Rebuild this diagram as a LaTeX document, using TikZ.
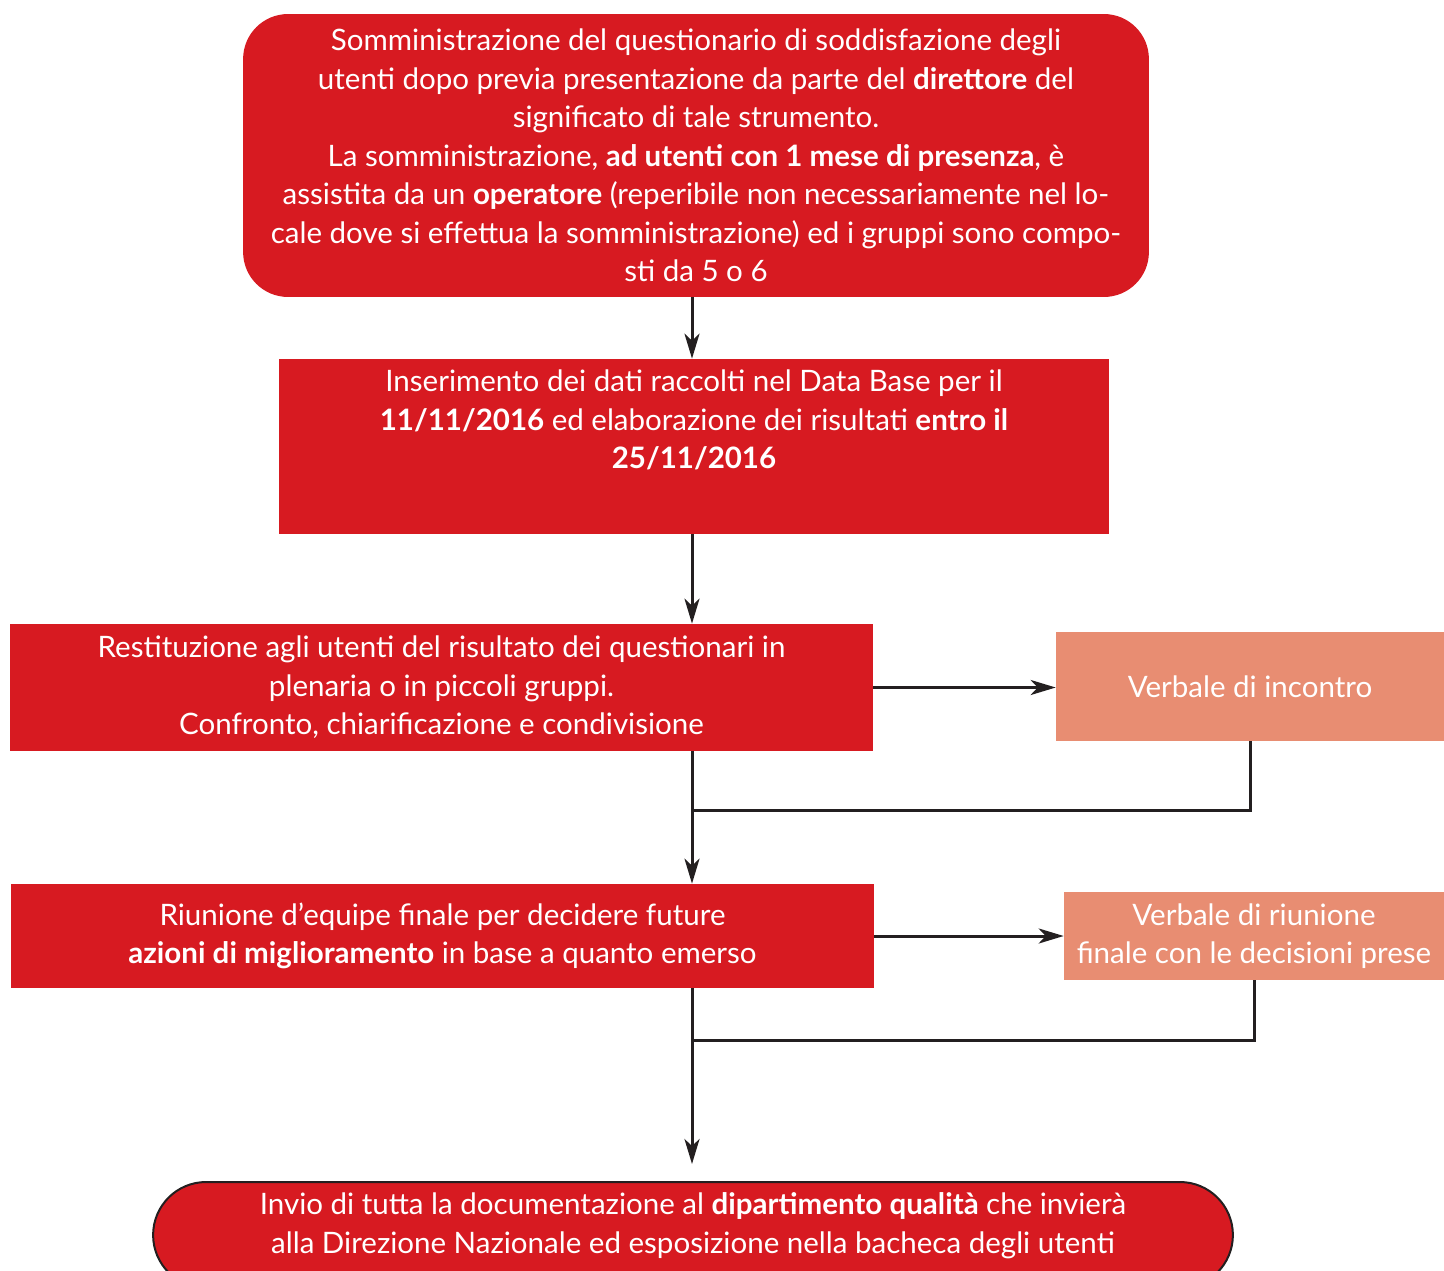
\documentclass[tikz,border=0pt]{standalone}
\usepackage{fontspec}
\setmainfont{Lato}
\usepackage{tikz}
\usetikzlibrary{arrows.meta, positioning}
\definecolor{qred}{HTML}{D71A21}
\definecolor{qsalmon}{HTML}{E88D72}
\definecolor{qline}{HTML}{231F20}
\tikzset{>={Stealth[length=0.5cm, width=0.3cm, inset=0.14cm]}}
\tikzset{
  redbox/.style={fill=qred, text=white, align=center, inner sep=0pt,
    font=\fontsize{16.8pt}{21.9pt}\selectfont},
  salmonbox/.style={fill=qsalmon, text=white, align=center, inner sep=0pt,
    font=\fontsize{16.8pt}{21.9pt}\selectfont},
  boxtext/.style={text=white, align=center, inner sep=0pt,
    font=\fontsize{16.8pt}{21.9pt}\selectfont},
  link/.style={draw=qline, line width=0.06cm}
}

\begin{document}
\begin{tikzpicture}[x=0.02cm, y=-0.02cm]
		\useasboundingbox (0,0) rectangle (1444,1271);
		\coordinate (trunk) at (692,600);
		% fasi principali
		\node[redbox, rounded corners=0.9cm, minimum width=18.12cm, minimum height=5.66cm] (somm) at (696,155.5)
		  {Somministrazione del questionario di soddisfazione degli\\
		   utenti dopo previa presentazione da parte del \textbf{direttore} del\\
		   significato di tale strumento.\\
		   La somministrazione, \textbf{ad utenti con 1 mese di presenza}, è\\
		   assistita da un \textbf{operatore} (reperibile non necessariamente nel lo-\\
		   cale dove si effettua la somministrazione) ed i gruppi sono compo-\\
		   sti da 5 o 6};
		\node[redbox, minimum width=16.6cm, minimum height=3.5cm] (dati) at (694,446.5) {};
		\node[boxtext] (datitxt) at (694,420)
		  {Inserimento dei dati raccolti nel Data Base per il\\
		   \textbf{11/11/2016} ed elaborazione dei risultati \textbf{entro il}\\
		   \textbf{25/11/2016}};
		\node[redbox, minimum width=17.26cm, minimum height=2.54cm] (restit) at (441.5,687.5)
		  {Restituzione agli utenti del risultato dei questionari in\\
		   plenaria o in piccoli gruppi.\\
		   Confronto, chiarificazione e condivisione};
		\node[salmonbox, minimum width=7.76cm, minimum height=2.18cm] (verb1) at (1250,686.5)
		  {Verbale di incontro};
		\node[redbox, minimum width=17.26cm, minimum height=2.08cm] (riun) at (442.5,936)
		  {Riunione d’equipe finale per decidere future\\
		   \textbf{azioni di miglioramento} in base a quanto emerso};
		\node[salmonbox, minimum width=7.6cm, minimum height=1.76cm] (verb2) at (1254,936)
		  {Verbale di riunione\\ finale con le decisioni prese};
		\node[redbox, draw=qline, line width=0.04cm, rounded corners=1.06cm,
		  minimum width=21.6cm, minimum height=2.12cm] (invio) at (693,1235) {};
		\node[boxtext] (inviotxt) at (693,1225.5)
		  {Invio di tutta la documentazione al \textbf{dipartimento qualità} che invierà\\
		   alla Direzione Nazionale ed esposizione nella bacheca degli utenti};
		% collegamenti
		\coordinate (join1) at (692,810);
		\coordinate (join2) at (692,1040);
		\draw[link, ->] (somm.south -| trunk) -- (dati.north -| trunk);
		\draw[link, ->] (dati.south -| trunk) -- (restit.north -| trunk);
		\draw[link, ->] (restit.south -| trunk) -- (riun.north -| trunk);
		\draw[link, ->, shorten >=0.34cm] (riun.south -| trunk) -- (invio.north -| trunk);
		\draw[link, ->] (restit.east) -- (restit.east -| verb1.west);
		\draw[link, ->] (riun.east) -- (riun.east -| verb2.west);
		\draw[link] (verb1.south) |- (join1);
		\draw[link] (verb2.south) |- (join2);
\end{tikzpicture}
\end{document}
